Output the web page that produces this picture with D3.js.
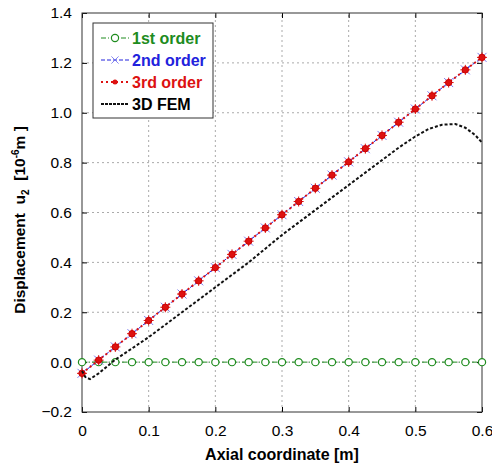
<!DOCTYPE html>
<html>
<head>
<meta charset="utf-8">
<script src="https://cdn.jsdelivr.net/npm/d3@7"></script>
<style>
  body { margin: 0; background: #fff; }
  svg text { font-family: Arial, "Liberation Sans", sans-serif; }
</style>
</head>
<body>
<svg id="chart" width="492" height="470"></svg>
<script>
// axial positions of the model nodes [m]
var xNodes = [0, 0.025, 0.05, 0.075, 0.1, 0.125, 0.15, 0.175, 0.2, 0.225, 0.25, 0.275,
  0.3, 0.325, 0.35, 0.375, 0.4, 0.425, 0.45, 0.475, 0.5, 0.525, 0.55, 0.575, 0.6];
var first = [0, 0, 0, 0, 0, 0, 0, 0, 0, 0, 0, 0, 0, 0, 0, 0, 0, 0, 0, 0, 0, 0, 0, 0, 0];
var second = [-0.045, 0.008, 0.061, 0.114, 0.167, 0.220, 0.273, 0.326, 0.379, 0.432, 0.485, 0.538,
  0.591, 0.644, 0.697, 0.750, 0.803, 0.856, 0.909, 0.962, 1.015, 1.068, 1.121, 1.172, 1.222];
var third = [-0.045, 0.008, 0.061, 0.114, 0.167, 0.220, 0.273, 0.326, 0.379, 0.432, 0.485, 0.538,
  0.591, 0.644, 0.697, 0.750, 0.803, 0.856, 0.909, 0.962, 1.015, 1.068, 1.121, 1.172, 1.222];
var femX = [0, 0.005, 0.012, 0.025, 0.05, 0.075, 0.1, 0.125, 0.15, 0.175, 0.2, 0.225, 0.25, 0.275,
  0.3, 0.325, 0.35, 0.375, 0.4, 0.425, 0.45, 0.475, 0.5, 0.52, 0.54, 0.56, 0.575, 0.59, 0.6];
var femY = [-0.035, -0.06, -0.068, -0.045, 0.01, 0.055, 0.10, 0.15, 0.20, 0.25, 0.30, 0.35, 0.40, 0.455,
  0.51, 0.56, 0.61, 0.66, 0.71, 0.76, 0.81, 0.86, 0.905, 0.935, 0.952, 0.955, 0.94, 0.91, 0.88];
var xTicks = [0, 0.1, 0.2, 0.3, 0.4, 0.5, 0.6];
var yTicks = [-0.2, 0, 0.2, 0.4, 0.6, 0.8, 1.0, 1.2, 1.4];
var legendNames = ['1st order', '2nd order', '3rd order', '3D FEM'];

var svg = d3.select('#chart');
var m = {l: 82, r: 10, t: 13, b: 58};
var W = 492, H = 470;
var x = d3.scaleLinear().domain([0, 0.6]).range([m.l, W - m.r]);
var y = d3.scaleLinear().domain([-0.2, 1.4]).range([H - m.b, m.t]);

// grid
var grid = svg.append('g').attr('stroke', '#aaa').attr('stroke-dasharray', '2,3').attr('stroke-width', 1);
grid.selectAll('.gx').data(xTicks.slice(1, -1)).enter().append('line')
  .attr('x1', function(d){ return x(d); }).attr('x2', function(d){ return x(d); })
  .attr('y1', y(-0.2)).attr('y2', y(1.4));
grid.selectAll('.gy').data(yTicks.slice(1, -1)).enter().append('line')
  .attr('y1', function(d){ return y(d); }).attr('y2', function(d){ return y(d); })
  .attr('x1', x(0)).attr('x2', x(0.6));

// axes, matlab style: ticks inward on all four sides
function styleAxis(g){
  g.select('.domain').remove();
  g.selectAll('.tick line').attr('stroke', '#000');
  g.selectAll('.tick text').attr('font-size', 15.5).attr('fill', '#000');
}
svg.append('g').attr('transform', 'translate(0,' + y(-0.2) + ')')
  .call(d3.axisBottom(x).tickValues(xTicks).tickSizeInner(-5).tickPadding(13)
    .tickFormat(function(d){ return d === 0 ? '0' : d3.format('.1f')(d); }))
  .call(styleAxis);
svg.append('g').attr('transform', 'translate(0,' + y(1.4) + ')')
  .call(d3.axisTop(x).tickValues(xTicks).tickSizeInner(-5).tickFormat(''))
  .call(styleAxis);
svg.append('g').attr('transform', 'translate(' + x(0) + ',0)')
  .call(d3.axisLeft(y).tickValues(yTicks).tickSizeInner(-5).tickPadding(10).tickFormat(d3.format('.1f')))
  .call(styleAxis);
svg.append('g').attr('transform', 'translate(' + x(0.6) + ',0)')
  .call(d3.axisRight(y).tickValues(yTicks).tickSizeInner(-5).tickFormat(''))
  .call(styleAxis);
svg.append('rect').attr('x', x(0)).attr('y', y(1.4))
  .attr('width', x(0.6) - x(0)).attr('height', y(-0.2) - y(1.4))
  .attr('fill', 'none').attr('stroke', '#333').attr('stroke-width', 1);

var line = d3.line().x(function(d){ return x(d[0]); }).y(function(d){ return y(d[1]); });
var plot = svg.append('g');

var green = '#1e8c1e', blue = '#2222dd', red = '#dd1111';

// 1st order
var p1 = d3.zip(xNodes, first);
plot.append('path').datum(p1).attr('d', line).attr('fill', 'none')
  .attr('stroke', green).attr('stroke-width', 1).attr('stroke-dasharray', '5,2,1,2');
plot.selectAll('.c1').data(p1).enter().append('circle')
  .attr('cx', function(d){ return x(d[0]); }).attr('cy', function(d){ return y(d[1]); })
  .attr('r', 3.6).attr('fill', '#fff').attr('stroke', green).attr('stroke-width', 1.2);

// 2nd order
var p2 = d3.zip(xNodes, second);
plot.append('path').datum(p2).attr('d', line).attr('fill', 'none')
  .attr('stroke', blue).attr('stroke-width', 1).attr('stroke-dasharray', '4,2');
var crossPath = 'M-4.5,-4.5L4.5,4.5M-4.5,4.5L4.5,-4.5';
plot.selectAll('.c2').data(p2).enter().append('path')
  .attr('transform', function(d){ return 'translate(' + x(d[0]) + ',' + y(d[1]) + ')'; })
  .attr('d', crossPath).attr('stroke', '#7777ee').attr('stroke-width', 1);

// 3rd order
var p3 = d3.zip(xNodes, third);
plot.append('path').datum(p3).attr('d', line).attr('fill', 'none')
  .attr('stroke', red).attr('stroke-width', 2).attr('stroke-dasharray', '2,3');
var starPath = 'M-5,0L5,0M0,-5L0,5';
var s3 = plot.selectAll('.c3').data(p3).enter().append('g')
  .attr('transform', function(d){ return 'translate(' + x(d[0]) + ',' + y(d[1]) + ')'; });
s3.append('path').attr('d', starPath).attr('stroke', red).attr('stroke-width', 1);
s3.append('circle').attr('r', 3.2).attr('fill', red).attr('stroke', '#c00');

// 3D FEM
plot.append('path').datum(d3.zip(femX, femY)).attr('d', line).attr('fill', 'none')
  .attr('stroke', '#111').attr('stroke-width', 2).attr('stroke-dasharray', '3,2');

// legend
var lg = svg.append('g').attr('transform', 'translate(93,23)');
lg.append('rect').attr('width', 120).attr('height', 95)
  .attr('fill', '#fff').attr('stroke', '#333').attr('stroke-width', 1);
var legendColors = [green, blue, red, '#000'];
legendNames.forEach(function(name, i){
  var row = lg.append('g').attr('transform', 'translate(0,' + (15 + i * 22) + ')');
  var sx1 = 8, sx2 = 36, mid = 22;
  if (i === 0) {
    row.append('line').attr('x1', sx1).attr('x2', sx2).attr('stroke', green).attr('stroke-dasharray', '5,2,1,2');
    row.append('circle').attr('cx', mid).attr('r', 3.6).attr('fill', '#fff').attr('stroke', green).attr('stroke-width', 1.2);
  } else if (i === 1) {
    row.append('line').attr('x1', sx1).attr('x2', sx2).attr('stroke', blue).attr('stroke-dasharray', '4,2');
    row.append('path').attr('transform', 'translate(' + mid + ',0) scale(0.8)').attr('d', crossPath).attr('stroke', '#6a6aee');
  } else if (i === 2) {
    row.append('line').attr('x1', sx1).attr('x2', sx2).attr('stroke', red).attr('stroke-width', 2).attr('stroke-dasharray', '2,3');
    row.append('circle').attr('cx', mid).attr('r', 2.5).attr('fill', red);
  } else {
    row.append('line').attr('x1', sx1).attr('x2', sx2).attr('stroke', '#111').attr('stroke-width', 2).attr('stroke-dasharray', '3,1');
  }
  row.append('text').attr('x', 39).attr('y', 6).attr('font-size', 16).attr('font-weight', 'bold')
    .attr('fill', legendColors[i]).text(name);
});

// axis titles
svg.append('text').attr('x', (x(0) + x(0.6)) / 2).attr('y', 460).attr('text-anchor', 'middle')
  .attr('font-size', 16).attr('font-weight', 'bold').text('Axial coordinate [m]');
var yl = svg.append('text').attr('transform', 'translate(25,220) rotate(-90)')
  .attr('text-anchor', 'middle').attr('font-size', 15.5).attr('font-weight', 'bold');
yl.append('tspan').text('Displacement\u00a0 u');
yl.append('tspan').attr('font-size', 10).attr('dy', 4).text('2');
yl.append('tspan').attr('dy', -4).text('\u00a0 [10');
yl.append('tspan').attr('font-size', 10).attr('dy', -6).text('-6');
yl.append('tspan').attr('dy', 6).text('m ]');
</script>
</body>
</html>
